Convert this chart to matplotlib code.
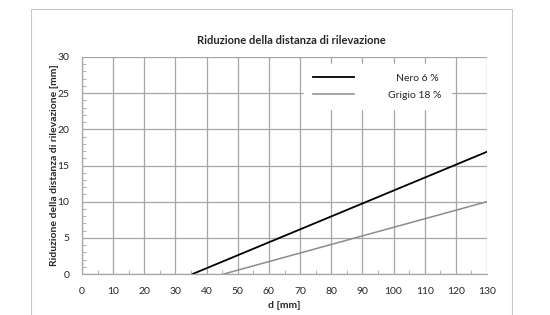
import matplotlib
matplotlib.use("Agg")
import matplotlib.pyplot as plt
from matplotlib.patches import Rectangle
from matplotlib.ticker import MultipleLocator

plt.rcParams['font.family'] = ['Lato', 'DejaVu Sans']

d_black = [35.5, 130]
r_black = [0, 16.9]
d_grey = [45.5, 130]
r_grey = [0, 10]
labels = ["Nero 6 %", "Grigio 18 %"]

fig = plt.figure(figsize=(5.5, 3.15), dpi=100)
fig.patches.append(Rectangle((31/550, -0.1), (512-31)/550, 1.1 - 9/315 + 0.0,
                             transform=fig.transFigure, fill=False,
                             edgecolor='#c8c8c8', lw=0.8))
ax = fig.add_axes([82/550, 1 - 274/315, (487-82)/550, (274-57)/315])
grid_c = '#a6a6a6'
txt_c = '#262626'
ax.set_xlim(0, 130)
ax.set_ylim(0, 30)
ax.xaxis.set_major_locator(MultipleLocator(10))
ax.xaxis.set_minor_locator(MultipleLocator(5))
ax.yaxis.set_major_locator(MultipleLocator(5))
ax.yaxis.set_minor_locator(MultipleLocator(1))
ax.grid(True, which='major', color=grid_c, lw=0.9)
ax.set_axisbelow(True)
for s in ['top', 'right']:
    ax.spines[s].set_visible(False)
for s in ['left', 'bottom']:
    ax.spines[s].set_color(grid_c)
    ax.spines[s].set_linewidth(0.9)
ax.tick_params(which='both', direction='in', color=grid_c, labelsize=7.5, labelcolor=txt_c)
ax.tick_params(axis='x', pad=9)
ax.tick_params(axis='y', pad=9)
ax.tick_params(which='major', length=0)
ax.tick_params(which='minor', length=3)

l1, = ax.plot(d_black, r_black, color='black', lw=1.3)
l2, = ax.plot(d_grey, r_grey, color='#8c8c8c', lw=1.1)

leg = ax.legend([l1, l2], labels, loc='upper left', bbox_to_anchor=(0.547, 0.967),
                frameon=True, fontsize=7.5, handlelength=3.9, handletextpad=3.3,
                markerfirst=True, borderpad=0.9, borderaxespad=0.0, labelspacing=0.75)
leg.get_frame().set_edgecolor('white')
leg.get_frame().set_facecolor('white')
leg.get_frame().set_alpha(1)
for t in leg.get_texts():
    t.set_color(txt_c)

# right-align legend labels
fig.canvas.draw()
r = fig.canvas.get_renderer()
widths = [t.get_window_extent(r).width for t in leg.get_texts()]
wmax = max(widths)
for t, w in zip(leg.get_texts(), widths):
    t.set_position(((wmax - w) * 72 / fig.dpi, 0))

ax.set_title("Riduzione della distanza di rilevazione", fontsize=8, fontweight='bold',
             pad=9, color=txt_c, x=0.516)
ax.set_xlabel("d [mm]", fontsize=7.5, fontweight='bold', labelpad=4, color=txt_c)
ax.set_ylabel("Riduzione della distanza di rilevazione [mm]", fontsize=7.5, fontweight='bold',
              labelpad=-1, color=txt_c)

fig.savefig("out.png", dpi=100)
